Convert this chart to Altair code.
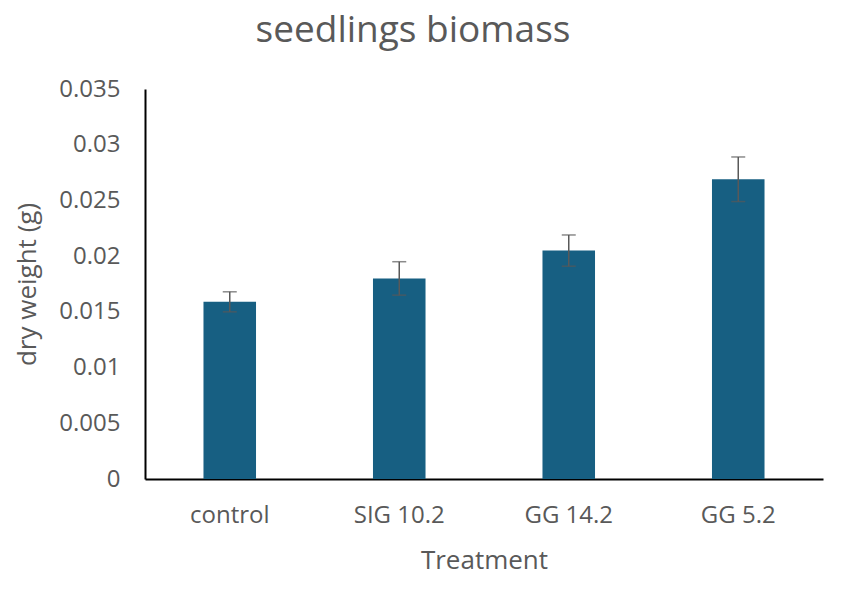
import altair as alt
import pandas as pd

categories = ["control", "SIG 10.2", "GG 14.2", "GG 5.2"]
means = [0.0159, 0.0180, 0.0205, 0.0269]
errors = [0.0009, 0.0015, 0.0014, 0.0020]

df = pd.DataFrame({"Treatment": categories, "mean": means, "err": errors})
df["lo"] = df["mean"] - df["err"]
df["hi"] = df["mean"] + df["err"]

FONT = "Open Sans"
GREY = "#595959"

x = alt.X("Treatment:N", sort=categories,
          scale=alt.Scale(paddingInner=0.0, paddingOuter=0.0),
          axis=alt.Axis(title="Treatment", labelAngle=0, ticks=False,
                        labelPadding=24, titlePadding=20, domainColor="black",
                        domainWidth=2))

bars = alt.Chart(df).mark_bar(color="#175F82", width=alt.RelativeBandSize(0.31)).encode(
    x=x,
    y=alt.Y("mean:Q", scale=alt.Scale(domain=[0, 0.035], nice=False),
            axis=alt.Axis(title="dry weight (g)", values=[0, 0.005, 0.01, 0.015, 0.02, 0.025, 0.03, 0.035],
                          ticks=False, grid=False, labelPadding=25,
                          titlePadding=18, domainColor="black", domainWidth=2,
                          labelExpr="datum.value == 0 ? '0' : format(datum.value, '~g')")),
)

rule = alt.Chart(df).mark_rule(color=GREY, strokeWidth=1.5).encode(
    x=alt.X("Treatment:N", sort=categories), y="lo:Q", y2="hi:Q")
cap_hi = alt.Chart(df).mark_tick(color=GREY, thickness=1.5, size=14, orient="horizontal").encode(
    x=alt.X("Treatment:N", sort=categories), y="hi:Q")
cap_lo = alt.Chart(df).mark_tick(color=GREY, thickness=1.5, size=14, orient="horizontal").encode(
    x=alt.X("Treatment:N", sort=categories), y="lo:Q")

chart = alt.layer(bars, rule, cap_hi, cap_lo).properties(
    width=678, height=390,
    title=alt.TitleParams("seedlings biomass", fontSize=37, font=FONT, color=GREY,
                          fontWeight="normal", anchor="middle", dx=-71, offset=27),
    autosize=alt.AutoSizeParams(type="none"),
    padding={"left": 137, "top": 81, "right": 25, "bottom": 100},
).configure_view(stroke=None).configure_axis(
    labelFont=FONT, titleFont=FONT, labelColor=GREY, titleColor=GREY,
    labelFontSize=24, titleFontSize=26, titleFontWeight="normal", grid=False,
)

chart.save("out.html", embed_options={"renderer": "svg", "actions": False})
